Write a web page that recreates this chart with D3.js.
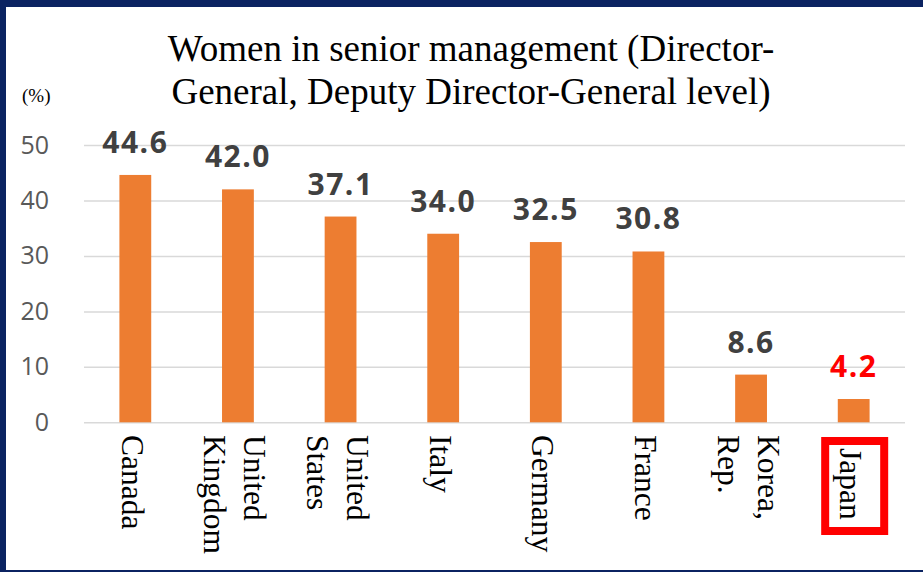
<!DOCTYPE html>
<html>
<head>
<meta charset="utf-8">
<script src="https://cdn.jsdelivr.net/npm/d3@7"></script>
<style>
  html, body { margin: 0; padding: 0; background: #fff; }
  svg { display: block; }
</style>
</head>
<body>
<div id="chart"></div>
<script>
const countries = [["Canada"], ["United", "Kingdom"], ["United", "States"], ["Italy"], ["Germany"], ["France"], ["Korea,", "Rep."], ["Japan"]];
const shares = [44.6, 42.0, 37.1, 34.0, 32.5, 30.8, 8.6, 4.2];
const yTicks = [0, 10, 20, 30, 40, 50];
const titleLines = ["Women in senior management (Director-", "General, Deputy Director-General level)"];
const highlight = "Japan";

const W = 923, H = 572;
const plot = {left: 84, right: 905, top: 145, bottom: 422.3};

const data = countries.map((c, i) => ({name: c.join(" "), lines: c, value: shares[i]}));

function drawChart() {
    const svg = d3.select("#chart").append("svg")
        .attr("width", W)
        .attr("height", H);

    // frame: navy edge on top, left, bottom
    svg.append("rect").attr("width", W).attr("height", H).attr("fill", "#0b2361");
    svg.append("rect").attr("x", 6).attr("y", 7).attr("width", W - 6).attr("height", H - 9).attr("fill", "#fff");

    const x = d3.scaleBand()
        .domain(data.map(d => d.name))
        .range([plot.left, plot.right])
        .paddingInner(0.69)
        .paddingOuter(0.345);

    const y = d3.scaleLinear().domain([0, 50]).range([plot.bottom, plot.top]);

    // grid
    const grid = d3.axisLeft(y).tickValues(yTicks).tickSize(-(plot.right - plot.left)).tickFormat("");
    svg.append("g")
        .attr("transform", `translate(${plot.left},0)`)
        .call(grid)
        .call(g => g.select(".domain").remove())
        .selectAll("line")
        .attr("stroke", "#d9d9d9")
        .attr("stroke-width", 1.5);

    // y tick labels
    svg.append("g")
        .attr("transform", `translate(${plot.left - 35},0)`)
        .call(d3.axisLeft(y).tickValues(yTicks).tickSize(0).tickPadding(0))
        .call(g => g.select(".domain").remove())
        .selectAll("text")
        .attr("fill", "#595959")
        .style("font-family", "'Open Sans', 'Liberation Sans', sans-serif")
        .style("font-size", "25px");

    // bars
    svg.selectAll(".bar")
        .data(data)
        .enter().append("rect")
        .attr("class", "bar")
        .attr("x", d => x(d.name))
        .attr("y", d => y(d.value))
        .attr("width", x.bandwidth())
        .attr("height", d => y(0) - y(d.value))
        .attr("fill", "#ed7d31");

    // value labels
    svg.selectAll(".val")
        .data(data)
        .enter().append("text")
        .attr("class", "val")
        .attr("x", d => x(d.name) + x.bandwidth() / 2)
        .attr("y", d => y(d.value) - 22)
        .attr("text-anchor", "middle")
        .attr("fill", d => d.name === highlight ? "#ff0000" : "#404040")
        .style("font-family", "'Open Sans', 'Liberation Sans', sans-serif")
        .style("font-weight", "bold")
        .style("font-size", "30px")
        .style("letter-spacing", "1.5px")
        .text(d => d.value.toFixed(1));

    addCategoryLabels(svg, x);
    addTitle(svg);
}

function addCategoryLabels(svg, x) {
    const lineGap = 40;
    const labels = svg.selectAll(".cat")
        .data(data)
        .enter().append("text")
        .attr("class", "cat")
        .attr("transform", d => {
            const cx = x(d.name) + x.bandwidth() / 2 - 3;
            const top = d.name === highlight ? 448 : 435;
            return `translate(${cx},${top}) rotate(90)`;
        })
        .style("font-family", "'Liberation Serif', 'Times New Roman', serif")
        .style("font-size", "31.5px")
        .attr("fill", "#000");

    labels.selectAll("tspan")
        .data(d => d.lines.map((t, i) => ({t, i, n: d.lines.length})))
        .enter().append("tspan")
        .attr("x", 0)
        .attr("y", d => (d.i - (d.n - 1) / 2) * lineGap + 10.5)
        .text(d => d.t);

    // red highlight box around Japan
    const cx = x(highlight) + x.bandwidth() / 2 + 1;
    svg.append("rect")
        .attr("x", cx - 29.5)
        .attr("y", 441)
        .attr("width", 59)
        .attr("height", 90)
        .attr("fill", "none")
        .attr("stroke", "#ff0000")
        .attr("stroke-width", 8);
}

function addTitle(svg) {
    svg.append("g").selectAll("text")
        .data(titleLines)
        .enter().append("text")
        .attr("x", 471)
        .attr("y", (d, i) => 61 + i * 43)
        .attr("text-anchor", "middle")
        .style("font-family", "'Liberation Serif', 'Times New Roman', serif")
        .style("font-size", "37px")
        .attr("fill", "#000")
        .text(d => d);

    svg.append("text")
        .attr("x", 22)
        .attr("y", 102)
        .style("font-family", "'Liberation Serif', 'Times New Roman', serif")
        .style("font-size", "19px")
        .attr("fill", "#000")
        .text("(%)");
}

document.addEventListener("DOMContentLoaded", drawChart);
</script>
</body>
</html>
